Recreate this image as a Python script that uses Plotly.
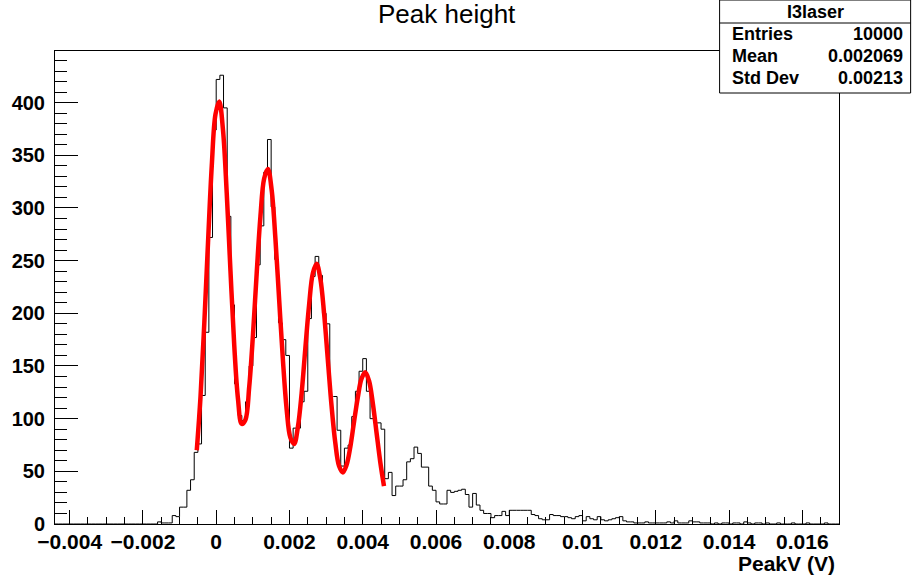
import numpy as np
import plotly.graph_objects as go

# ---------------- data ----------------
x_min = -0.0044
x_max = 0.017
bin_width = 0.0001

counts = (
    [0] * 28
    + [2, 1, 1, 1, 8, 7, 16, 16, 32, 42, 68, 76, 122, 182, 272, 374]
    + [422, 426, 395, 292, 208, 133, 103, 98, 116, 150, 177, 246, 283, 334, 365, 301, 251, 191, 175, 160]
    + [72, 91, 91, 116, 126, 195, 235, 254, 236, 200, 190, 121, 121, 89, 55, 72, 75, 102, 126, 145]
    + [157, 126, 100, 96, 96, 90, 43, 49, 27, 36, 36, 42, 59, 62, 73, 67, 54, 54, 36, 32]
    + [21, 19, 19, 32, 30, 31, 32, 33, 28, 16, 29, 18, 13, 10, 10, 6, 8, 8, 12, 8]
    + [13, 13, 13, 13, 13, 13, 9, 8, 5, 4, 4, 9, 8, 8, 7, 7, 6, 5, 7, 8]
    + [3, 7, 5, 4, 7, 4, 3, 4, 5, 6, 7, 3, 2, 2, 1, 1, 1, 2, 1, 1]
    + [1, 1, 1, 2, 1, 3, 1, 1, 1, 3, 2, 2, 1, 1, 1, 0, 1, 0, 1, 1]
    + [0, 1, 1, 0, 2, 1, 0, 1, 1, 0, 1, 0, 0, 1, 0, 0, 0, 1, 0, 0]
    + [0, 1, 0, 0, 0, 0, 1, 0, 0, 0]
)

fit_x_start = -0.00053
fit_x_end = 0.00458
fit_values = [70, 121, 190, 267, 340, 389, 401, 374, 314, 240, 170, 119, 95, 99, 130, 179,
              238, 292, 328, 337, 317, 271, 213, 156, 109, 82, 76, 92, 124, 167, 208, 238,
              247, 233, 200, 156, 112, 77, 55, 49, 56, 73, 97, 120, 138, 144, 136, 115,
              87, 59, 36]

x_tick_vals = [-0.004, -0.002, 0, 0.002, 0.004, 0.006, 0.008, 0.01, 0.012, 0.014, 0.016]
x_tick_text = ["\u22120.004", "\u22120.002", "0", "0.002", "0.004", "0.006", "0.008",
               "0.01", "0.012", "0.014", "0.016"]
y_tick_vals = [0, 50, 100, 150, 200, 250, 300, 350, 400]

title_text = "Peak height"
x_title = "PeakV (V)"
stats_name = "I3laser"
stats_labels = ["Entries", "Mean", "Std Dev"]
stats_values = ["10000", "0.002069", "0.00213"]

# ---------------- figure ----------------
W, H = 912, 583
L, R, T, B = 51, 73, 51, 59
PW, PH = W - L - R, H - T - B

def pxx(px):
    return (px - L) / PW

def pxy(py):
    return (H - B - py) / PH

FONT = "Liberation Sans, Arial, Helvetica, sans-serif"

edges = x_min + bin_width * np.arange(len(counts) + 1)
hist_y = list(counts) + [counts[-1]]

fit_x = np.linspace(fit_x_start, fit_x_end, len(fit_values))

fig = go.Figure()
fig.add_trace(go.Scatter(
    x=edges, y=hist_y, mode="lines", line=dict(color="black", width=1, shape="hv"),
    hoverinfo="skip", showlegend=False))
fig.add_trace(go.Scatter(
    x=fit_x, y=fit_values, mode="lines", line=dict(color="#ff0000", width=4.5, shape="spline"),
    hoverinfo="skip", showlegend=False))

fig.update_layout(
    width=W, height=H,
    margin=dict(l=L, r=R, t=T, b=B, pad=0),
    paper_bgcolor="white", plot_bgcolor="white",
    font=dict(family=FONT, color="black"),
    showlegend=False,
)

fig.update_xaxes(
    range=[x_min, x_max], showgrid=False, zeroline=False,
    showline=True, mirror=True, linecolor="black", linewidth=1,
    ticks="inside", ticklen=14, tickwidth=1, tickcolor="black",
    tickmode="array", tickvals=x_tick_vals, ticktext=x_tick_text,
    tickfont=dict(family=FONT, size=21, color="black", weight="bold"),
    ticklabelstandoff=-1,
    minor=dict(tickmode="linear", tick0=0, dtick=0.0005, ticks="inside",
               ticklen=7, tickwidth=1, tickcolor="black", showgrid=False),
)
fig.update_yaxes(
    range=[0, 449], showgrid=False, zeroline=False,
    showline=True, mirror=True, linecolor="black", linewidth=1,
    ticks="inside", ticklen=23, tickwidth=1, tickcolor="black",
    tickmode="array", tickvals=y_tick_vals,
    tickfont=dict(family=FONT, size=20, color="black", weight="bold"),
    ticklabelstandoff=5,
    minor=dict(tickmode="linear", tick0=0, dtick=10, ticks="inside",
               ticklen=12, tickwidth=1, tickcolor="black", showgrid=False),
)

annotations = [
    dict(text=title_text, x=pxx(445), y=pxy(14), xref="paper", yref="paper",
         xanchor="center", yanchor="middle", showarrow=False,
         font=dict(family=FONT, size=26, color="black")),
    dict(text=x_title, x=pxx(837), y=pxy(563), xref="paper", yref="paper",
         xanchor="right", yanchor="middle", showarrow=False,
         font=dict(family=FONT, size=21, color="black", weight="bold")),
]

# stats box
bx0, bx1, by0, by1, bline = 719, 911, 0, 93, 23
shapes = [
    dict(type="rect", xref="paper", yref="paper", x0=pxx(bx0), x1=pxx(bx1),
         y0=pxy(by1), y1=pxy(by0), fillcolor="white",
         line=dict(color="black", width=1), layer="above"),
    dict(type="line", xref="paper", yref="paper", x0=pxx(bx0), x1=pxx(bx1),
         y0=pxy(bline), y1=pxy(bline), line=dict(color="black", width=1), layer="above"),
]
annotations.append(dict(text=stats_name, x=pxx((bx0 + bx1) / 2), y=pxy(11.5),
                        xref="paper", yref="paper", xanchor="center", yanchor="middle",
                        showarrow=False,
                        font=dict(family=FONT, size=18, color="black", weight="bold")))
row_y = [34, 56, 78]
for lab, val, ry in zip(stats_labels, stats_values, row_y):
    annotations.append(dict(text=lab, x=pxx(729), y=pxy(ry), xref="paper", yref="paper",
                            xanchor="left", yanchor="middle", showarrow=False,
                            font=dict(family=FONT, size=18, color="black", weight="bold")))
    annotations.append(dict(text=val, x=pxx(905), y=pxy(ry), xref="paper", yref="paper",
                            xanchor="right", yanchor="middle", showarrow=False,
                            font=dict(family=FONT, size=18, color="black", weight="bold")))

fig.update_layout(shapes=shapes, annotations=annotations)

fig.write_html("out.html")
